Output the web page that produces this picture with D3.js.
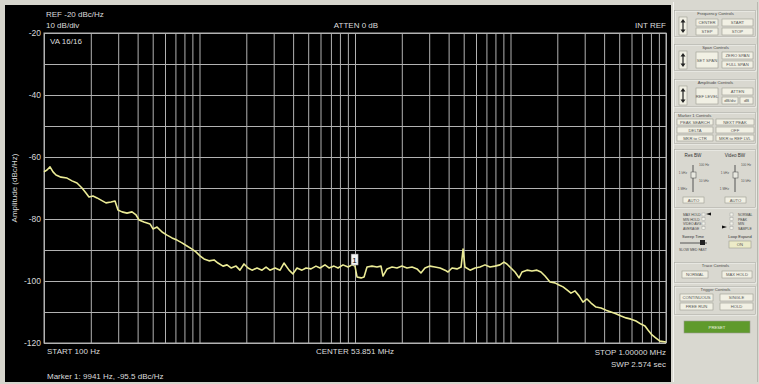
<!DOCTYPE html>
<html><head><meta charset="utf-8">
<script src="https://cdn.jsdelivr.net/npm/d3@7"></script>
<style>html,body{margin:0;padding:0;background:#d6d5cd;}svg{display:block;font-family:"Liberation Sans",Arial,sans-serif;}</style>
</head><body>
<svg id="c" width="759" height="384"></svg>
<script>
// ---- data ----
const freqHz = [100,104.5,109.3,114.3,119.5,128.6,140.6,151.4,163,175.5,186.2,194.6,206.6,219.3,232.6,250.4,269.7,286.2,299,317.5,341.8,368,390.8,408.3,439.5,480.5,502.3,533.1,574.4,618.2,665.6,716.6,771.5,831.1,895.3,948.6,1007,1069,1151,1240,1315,1416,1503,1596,1718,1820,1932,2051,2177,2344,2523,2679,2838,3062,3296,3493,3767,3990,4236,4561,4842,5212,5611,5957,6412,6807,7328,7780,8375,9016,9571,10000,10305,10940,11432,11946,12860,13843,14695,15137,16070,17300,18622,20046,21578,23280,25061,26550,28184,30339,32658,35237,37931,39628,42073,45290,48084,49545,50933,54954,59156,63680,68548,73790,79433,85507,90782,94842,100693,106904,113501,118578,127644,137404,147911,157036,166724,179473,193197,205116,217771,230675,244906,260016,276058,292416,310456,329610,354813,381944,411150,442588,476431,514040,553341,595662,641210,690240,732825,765597,812831,862979,914113,1000000];
const amplitudeDb = [-64.8,-64.2,-63.2,-64.8,-65.8,-66.5,-66.8,-67.7,-68.4,-70,-71.6,-72.9,-72.6,-73.2,-73.9,-74.8,-74.5,-74.2,-77.1,-77.7,-78.1,-77.7,-78.7,-80.3,-81,-81.6,-83.2,-82.6,-84.2,-85.2,-86.1,-86.8,-87.7,-88.7,-89.7,-90.6,-91.9,-92.9,-93.5,-93.2,-94.2,-95.2,-94.8,-95.8,-95.2,-96.5,-94.5,-95.8,-96.5,-95.8,-96.5,-95.5,-96.5,-95.8,-96.5,-94.2,-96.5,-97.7,-95.8,-96.5,-95.8,-96.1,-95.2,-95.8,-94.8,-95.8,-95.2,-95.8,-94.8,-95.5,-94.8,-95.2,-98.7,-99.0,-98.7,-95.5,-95.2,-95.5,-95.2,-98.4,-96.1,-95.5,-95.8,-95.2,-95.8,-95.5,-96.1,-97.4,-95.8,-95.2,-95.5,-95.8,-96.5,-97.1,-95.8,-96.1,-95.5,-89.7,-95.5,-96.5,-95.8,-95.5,-94.8,-95.5,-95.2,-94.8,-93.9,-94.5,-95.8,-97.1,-99,-97.1,-96.5,-96.8,-96.5,-97.1,-98.4,-100.3,-100.6,-101.3,-101.9,-102.9,-103.9,-103.2,-104.8,-106.8,-105.8,-107.1,-108.4,-108.7,-109.4,-110,-110.6,-111.3,-111.9,-112.3,-112.9,-113.9,-114.5,-115.8,-117.4,-118.4,-119.4,-119.7];
const yGridDb = [-20,-30,-40,-50,-60,-70,-80,-90,-100,-110,-120];
const yTickLabels = [-20,-40,-60,-80,-100,-120];
const markerFreq = 9941, markerDb = -95.5;
const headerTexts = ["REF -20 dBc/Hz","10 dB/div","ATTEN 0 dB","INT REF","VA 16/16"];
const footerTexts = ["START 100 Hz","CENTER 53.851 MHz","STOP 1.00000 MHz","SWP 2.574 sec","Marker 1: 9941 Hz, -95.5 dBc/Hz"];

// ---- layout ----
const svg = d3.select("#c");
const L = 44, R = 666, T = 33, B = 343;
const x = d3.scaleLog().domain([100, 1e6]).range([L, R]);
const y = d3.scaleLinear().domain([-120, -20]).range([B, T]);

svg.append("rect").attr("x",0).attr("y",0).attr("width",759).attr("height",384).attr("fill","#d6d5cd");
svg.append("rect").attr("x",5).attr("y",5).attr("width",666).attr("height",377).attr("fill","#000");

const gridCol = "#b2b2b2";
// vertical grid (log)
svg.append("g").attr("transform",`translate(0,${B})`)
  .call(d3.axisBottom(x).tickSize(-(B-T)).tickFormat(""))
  .call(g=>g.select(".domain").remove())
  .call(g=>g.selectAll("line").attr("stroke",gridCol).attr("stroke-width",1));
// horizontal grid
svg.append("g").attr("transform",`translate(${L},0)`)
  .call(d3.axisLeft(y).tickValues(yGridDb).tickSize(-(R-L)).tickFormat(""))
  .call(g=>g.select(".domain").remove())
  .call(g=>g.selectAll("line").attr("stroke",gridCol).attr("stroke-width",1));
svg.append("rect").attr("x",L).attr("y",T).attr("width",R-L).attr("height",B-T)
  .attr("fill","none").attr("stroke",gridCol).attr("stroke-width",1);

// y labels
svg.append("g").attr("transform",`translate(${L-3},0)`)
  .call(d3.axisLeft(y).tickValues(yTickLabels).tickSize(0).tickPadding(0).tickFormat(d=>d))
  .call(g=>g.select(".domain").remove())
  .call(g=>g.selectAll("text").attr("fill","#d8d8d8").style("font-size","8.5px").style("font-family","Liberation Sans, Arial, sans-serif"));

svg.append("text").attr("transform",`translate(17,${(T+B)/2}) rotate(-90)`)
  .attr("text-anchor","middle").attr("fill","#d8d8d8").style("font-size","8px")
  .text("Amplitude (dBc/Hz)");

// trace
const pts = freqHz.map((f,i)=>[f, amplitudeDb[i]]);
svg.append("path").datum(pts)
  .attr("d", d3.line().x(d=>x(d[0])).y(d=>y(d[1])))
  .attr("fill","none").attr("stroke","#ecec96").attr("stroke-width",1.6).attr("stroke-linejoin","round");

// marker
const mx = x(markerFreq), my = y(markerDb);
svg.append("rect").attr("x",mx-3.5).attr("y",my-13).attr("width",7).attr("height",11)
  .attr("fill","#f4f4f4").attr("stroke","#888").attr("stroke-width",0.5);
svg.append("text").attr("x",mx).attr("y",my-4.5).attr("text-anchor","middle")
  .attr("fill","#000").style("font-size","8px").text("1");

// header/footer texts
const tc = "#dcdcdc";
function txt(s, px, py, anchor, size){
  svg.append("text").attr("x",px).attr("y",py).attr("text-anchor",anchor||"start")
    .attr("fill",tc).style("font-size",(size||8)+"px").text(s);
}
txt(headerTexts[0], 46, 17);
txt(headerTexts[1], 46, 28);
txt(headerTexts[2], 356, 28, "middle");
txt(headerTexts[3], 666, 28, "end");
txt(headerTexts[4], 50, 44);
txt(footerTexts[0], 47, 354);
txt(footerTexts[1], 355, 354, "middle");
txt(footerTexts[2], 666, 355, "end");
txt(footerTexts[3], 666, 367, "end");
txt(footerTexts[4], 47, 379);

// ---- right control panel (decoration) ----
const P = svg.append("g");
P.append("rect").attr("x",671).attr("y",0).attr("width",88).attr("height",384).attr("fill","#d9d8d0");
P.append("line").attr("x1",673.5).attr("x2",673.5).attr("y1",2).attr("y2",382).attr("stroke","#f4f4f0");
P.append("line").attr("x1",757.5).attr("x2",757.5).attr("y1",2).attr("y2",382).attr("stroke","#b8b8b0");
const fs = 4.2;
function group(x0,y0,w,h,title,left){
  P.append("rect").attr("x",x0).attr("y",y0).attr("width",w).attr("height",h)
    .attr("fill","none").attr("stroke","#f6f6f2").attr("stroke-width",1);
  P.append("rect").attr("x",x0-0.5).attr("y",y0-0.5).attr("width",w).attr("height",h)
    .attr("fill","none").attr("stroke","#a8a8a0").attr("stroke-width",0.6);
  if(title){
    const tx = left ? x0+3 : x0+w/2;
    P.append("text").attr("x",tx).attr("y",y0+3.5).attr("text-anchor",left?"start":"middle")
      .attr("fill","#4a4a4a").style("font-size",fs+"px").text(title);
  }
}
function btn(x0,y0,w,h,label,fill,col){
  P.append("rect").attr("x",x0).attr("y",y0).attr("width",w).attr("height",h)
    .attr("fill",fill||"#f1f0e4").attr("stroke","#9c9c90").attr("stroke-width",0.6);
  if(label) P.append("text").attr("x",x0+w/2).attr("y",y0+h/2+1.5).attr("text-anchor","middle")
    .attr("fill",col||"#555").style("font-size",fs+"px").text(label);
}
function arrows(x0,y0,h){
  btn(x0,y0,8,h);
  P.append("path").attr("d",`M${x0+4},${y0+2} l-2.5,3.5 h5 z`).attr("fill","#222");
  P.append("path").attr("d",`M${x0+4},${y0+h-2} l-2.5,-3.5 h5 z`).attr("fill","#222");
  P.append("line").attr("x1",x0+4).attr("x2",x0+4).attr("y1",y0+5).attr("y2",y0+h-5).attr("stroke","#222").attr("stroke-width",1.2);
}
group(675,11,81,26,"Frequency Controls");
arrows(679,17,18);
btn(696,19,22,7,"CENTER"); btn(722,19,31,7,"START");
btn(696,28,22,7,"STEP"); btn(722,28,31,7,"STOP");

group(675,45,81,26,"Span Controls");
arrows(679,51,18);
btn(696,52,22,16,"SET SPAN"); btn(722,52,31,7,"ZERO SPAN"); btn(722,61,31,7,"FULL SPAN");

group(675,80,81,27,"Amplitude Controls");
arrows(679,86,19);
btn(696,88,22,16,"REF LEVEL"); btn(722,88,31,7,"ATTEN");
btn(722,97,16,7,"dB/div"); btn(740,97,13,7,"dB");

group(675,113,81,31,"Marker 1 Controls",true);
btn(677,119,36,6,"PEAK SEARCH"); btn(716,119,38,6,"NEXT PEAK");
btn(677,127,36,6,"DELTA"); btn(716,127,38,6,"OFF");
btn(677,135,36,6,"MKR to CTR"); btn(716,135,38,6,"MKR to REF LVL");

group(675,150,81,58,null);
P.append("text").attr("x",693).attr("y",157).attr("text-anchor","middle").attr("fill","#333").style("font-size","4.6px").text("Res BW");
P.append("text").attr("x",735).attr("y",157).attr("text-anchor","middle").attr("fill","#333").style("font-size","4.6px").text("Video BW");
[[693,"RBW"],[735,"VBW"]].forEach(([cx])=>{
  P.append("line").attr("x1",cx).attr("x2",cx).attr("y1",165).attr("y2",192).attr("stroke","#555").attr("stroke-width",1);
  P.append("rect").attr("x",cx-2).attr("y",172).attr("width",5).attr("height",6).attr("fill","#e8e8e0").attr("stroke","#444").attr("stroke-width",0.5);
  ["100 Hz","1 kHz","10 kHz","1 MHz"].forEach((s,i)=>P.append("text").attr("x",cx+(i%2?-6:6)).attr("y",166+i*8).attr("text-anchor",i%2?"end":"start").attr("fill","#555").style("font-size","3.2px").text(s));
});
btn(683,197,21,6,"AUTO"); btn(725,197,21,6,"AUTO");

["MAX HOLD","MIN HOLD","VIDEO AVG","AVERAGE"].forEach((s,i)=>{
  P.append("text").attr("x",683).attr("y",216+i*4.5).attr("fill","#444").style("font-size","3.4px").text(s);
  P.append("rect").attr("x",702).attr("y",213+i*4.5).attr("width",3).attr("height",3).attr("fill","#f4f4ec").attr("stroke","#999").attr("stroke-width",0.4);
});
["NORMAL","PEAK","MIN","SAMPLE"].forEach((s,i)=>{
  P.append("text").attr("x",738).attr("y",216+i*4.5).attr("fill","#444").style("font-size","3.4px").text(s);
  P.append("rect").attr("x",730).attr("y",213+i*4.5).attr("width",3).attr("height",3).attr("fill","#f4f4ec").attr("stroke","#999").attr("stroke-width",0.4);
});
P.append("path").attr("d","M706,214 l5,-1.5 v3 z").attr("fill","#111");
P.append("path").attr("d","M727,227 l-5,-1.5 v3 z").attr("fill","#111");

P.append("text").attr("x",693).attr("y",238).attr("text-anchor","middle").attr("fill","#333").style("font-size","4px").text("Sweep Time");
P.append("line").attr("x1",680).attr("x2",707).attr("y1",243).attr("y2",243).attr("stroke","#555").attr("stroke-width",1);
P.append("rect").attr("x",700).attr("y",240).attr("width",5).attr("height",5).attr("fill","#222");
P.append("text").attr("x",693).attr("y",251).attr("text-anchor","middle").attr("fill","#444").style("font-size","3.4px").text("SLOW  MED  FAST");
P.append("text").attr("x",740).attr("y",238).attr("text-anchor","middle").attr("fill","#333").style("font-size","4px").text("Loop Expand");
btn(729,241,22,7,"ON","#ecebc8");

group(675,263,81,20,"Trace Controls");
btn(682,271,26,7,"NORMAL"); btn(722,271,30,7,"MAX HOLD");

group(675,287,81,28,"Trigger Controls");
btn(680,294,33,7,"CONTINUOUS"); btn(720,294,33,7,"SINGLE");
btn(680,303,33,7,"FREE RUN"); btn(720,303,33,7,"HOLD");

btn(684,321,66,12,"PRESET","#5f9a2c","#eef6e0");
</script>
</body></html>
